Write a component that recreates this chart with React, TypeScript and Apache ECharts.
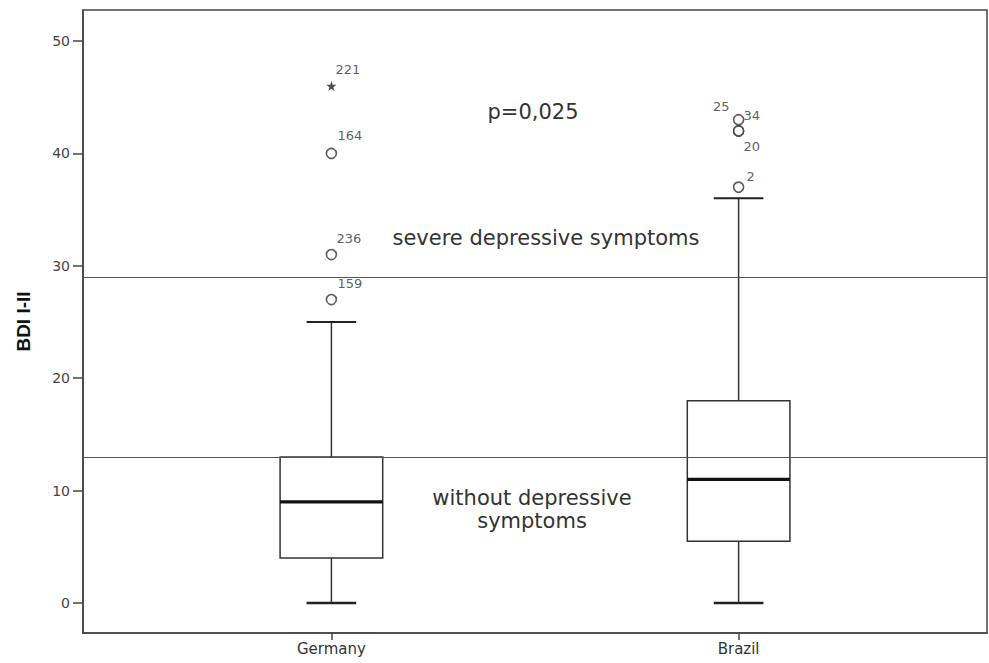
import React, { useEffect, useRef } from "react";
import * as echarts from "echarts";

// ---- data ----
const categories = ["Germany", "Brazil"];
const whiskerLow = [0, 0];
const q1 = [4, 5.5];
const median = [9, 11];
const q3 = [13, 18];
const whiskerHigh = [25, 36];

// outliers: [categoryIndex (1-based), value, case label]
const outlierCat = [1, 1, 1, 2, 2, 2, 2];
const outlierVal = [27, 31, 40, 37, 42, 42, 43];
const outlierId = ["159", "236", "164", "2", "34", "20", "25"];

// extreme values (star)
const extremeCat = [1];
const extremeVal = [46];
const extremeId = ["221"];

const yTicks = [0, 10, 20, 30, 40, 50];
const refLines = [29, 13];

// label offsets (style only)
const outlierLabelStyle: Record<string, any> = {
  "159": { align: "left", offset: [6, -16] },
  "236": { align: "left", offset: [5, -16] },
  "164": { align: "left", offset: [6, -18] },
  "2": { align: "left", offset: [8, -11] },
  "34": { align: "left", offset: [5, -15] },
  "20": { align: "left", offset: [5, 16] },
  "25": { align: "right", offset: [-9, -13] },
};

const FONT = "DejaVu Sans";
const DARK = "#333";

export default function App() {
  const ref = useRef<HTMLDivElement>(null);

  useEffect(() => {
    if (!ref.current) return;
    const chart = echarts.init(ref.current, null, { renderer: "svg" });

    const boxData = categories.map((_, i) => [
      i + 1,
      whiskerLow[i],
      q1[i],
      median[i],
      q3[i],
      whiskerHigh[i],
    ]);

    const outlierData = outlierVal.map((v, i) => {
      const ls = outlierLabelStyle[outlierId[i]] || { align: "left", offset: [6, -16] };
      return {
        value: [outlierCat[i], v, outlierId[i]],
        label: {
          show: true,
          position: "inside",
          align: ls.align,
          verticalAlign: "middle",
          offset: ls.offset,
        },
      };
    });

    const extremeData = extremeVal.map((v, i) => ({
      value: [extremeCat[i], v, extremeId[i]],
      label: {
        show: true,
        position: "inside",
        align: "left",
        verticalAlign: "middle",
        offset: [4, -16],
      },
    }));

    const BOX_HALF = 0.126;
    const CAP_HALF = 0.061;

    const option: any = {
      animation: false,
      backgroundColor: "#fff",
      grid: {
        left: 83,
        top: 10,
        right: 2,
        bottom: 30,
        show: true,
        borderColor: "#444",
        borderWidth: 1.5,
        backgroundColor: "transparent",
      },
      xAxis: {
        type: "value",
        min: 0.39,
        max: 2.61,
        splitLine: { show: false },
        axisLine: { show: true, onZero: false, lineStyle: { color: "#444", width: 1.5 } },
        axisTick: {
          show: true,
          customValues: [1, 2],
          length: 7,
          lineStyle: { color: "#444", width: 1.5 },
        },
        axisLabel: {
          customValues: [1, 2],
          formatter: (v: number) => categories[Math.round(v) - 1] ?? "",
          color: "#333",
          fontFamily: FONT,
          fontSize: 15,
          margin: 8,
        },
      },
      yAxis: {
        type: "value",
        min: -2.67,
        max: 52.76,
        name: "BDI I-II",
        nameLocation: "middle",
        nameGap: 50,
        nameTextStyle: {
          fontFamily: "Liberation Sans",
          fontWeight: "bold",
          fontSize: 19,
          color: "#111",
        },
        splitLine: { show: false },
        axisLine: { show: true, onZero: false, lineStyle: { color: "#444", width: 1.5 } },
        axisTick: {
          show: true,
          customValues: yTicks,
          length: 10,
          lineStyle: { color: "#444", width: 1.5 },
        },
        axisLabel: {
          customValues: yTicks,
          color: "#444",
          fontFamily: FONT,
          fontSize: 14,
          margin: 13,
        },
      },
      series: [
        {
          type: "custom",
          data: boxData,
          encode: { x: 0, y: [1, 2, 3, 4, 5] },
          z: 3,
          renderItem: (params: any, api: any) => {
            const x = api.value(0);
            const pLow = api.coord([x, api.value(1)]);
            const pQ1 = api.coord([x, api.value(2)]);
            const pMed = api.coord([x, api.value(3)]);
            const pQ3 = api.coord([x, api.value(4)]);
            const pHigh = api.coord([x, api.value(5)]);
            const half = api.size([BOX_HALF, 0])[0];
            const cap = api.size([CAP_HALF, 0])[0];
            const cx = pMed[0];
            const stroke = { stroke: DARK, lineWidth: 1.5, fill: null };
            return {
              type: "group",
              children: [
                {
                  type: "line",
                  shape: { x1: cx, y1: pQ3[1], x2: cx, y2: pHigh[1] },
                  style: stroke,
                },
                {
                  type: "line",
                  shape: { x1: cx, y1: pQ1[1], x2: cx, y2: pLow[1] },
                  style: stroke,
                },
                {
                  type: "line",
                  shape: { x1: cx - cap, y1: pHigh[1], x2: cx + cap, y2: pHigh[1] },
                  style: { stroke: "#222", lineWidth: 2 },
                },
                {
                  type: "line",
                  shape: { x1: cx - cap, y1: pLow[1], x2: cx + cap, y2: pLow[1] },
                  style: { stroke: "#222", lineWidth: 2.5 },
                },
                {
                  type: "rect",
                  shape: {
                    x: cx - half,
                    y: pQ3[1],
                    width: half * 2,
                    height: pQ1[1] - pQ3[1],
                  },
                  style: { stroke: DARK, lineWidth: 1.5, fill: "none" },
                },
                {
                  type: "line",
                  shape: { x1: cx - half, y1: pMed[1], x2: cx + half, y2: pMed[1] },
                  style: { stroke: "#111", lineWidth: 3.2 },
                },
              ],
            };
          },
        },
        {
          type: "scatter",
          data: outlierData,
          symbol: "circle",
          symbolSize: 10,
          z: 4,
          itemStyle: { color: "#fff", borderColor: DARK, borderWidth: 1.6 },
          label: {
            formatter: (p: any) => p.value[2],
            color: DARK,
            fontFamily: FONT,
            fontSize: 13,
          },
          markLine: {
            silent: true,
            symbol: "none",
            label: { show: false },
            lineStyle: { color: "#555", width: 1.2, type: "solid" },
            data: refLines.map((v) => ({ yAxis: v })),
          },
        },
        {
          type: "scatter",
          data: extremeData,
          symbol:
            "path://M5,0 L6.2,3.6 L10,3.6 L7,5.9 L8.1,9.5 L5,7.3 L1.9,9.5 L3,5.9 L0,3.6 L3.8,3.6 Z",
          symbolSize: 10,
          z: 4,
          itemStyle: { color: "#222" },
          label: {
            formatter: (p: any) => p.value[2],
            color: DARK,
            fontFamily: FONT,
            fontSize: 13,
          },
        },
      ],
      graphic: [
        {
          type: "text",
          x: 533,
          y: 112,
          style: {
            text: "p=0,025",
            font: `21px "${FONT}"`,
            fill: "#333",
            textAlign: "center",
            textVerticalAlign: "middle",
          },
        },
        {
          type: "text",
          x: 546,
          y: 238,
          style: {
            text: "severe depressive symptoms",
            font: `21px "${FONT}"`,
            fill: "#333",
            textAlign: "center",
            textVerticalAlign: "middle",
          },
        },
        {
          type: "text",
          x: 532,
          y: 509,
          style: {
            text: "without depressive\nsymptoms",
            font: `21px "${FONT}"`,
            lineHeight: 23,
            fill: "#333",
            textAlign: "center",
            textVerticalAlign: "middle",
          },
        },
      ],
    };

    chart.setOption(option);
    return () => chart.dispose();
  }, []);

  return (
    <div
      ref={ref}
      style={{ position: "fixed", left: 0, top: 0, width: 989, height: 663 }}
    />
  );
}
